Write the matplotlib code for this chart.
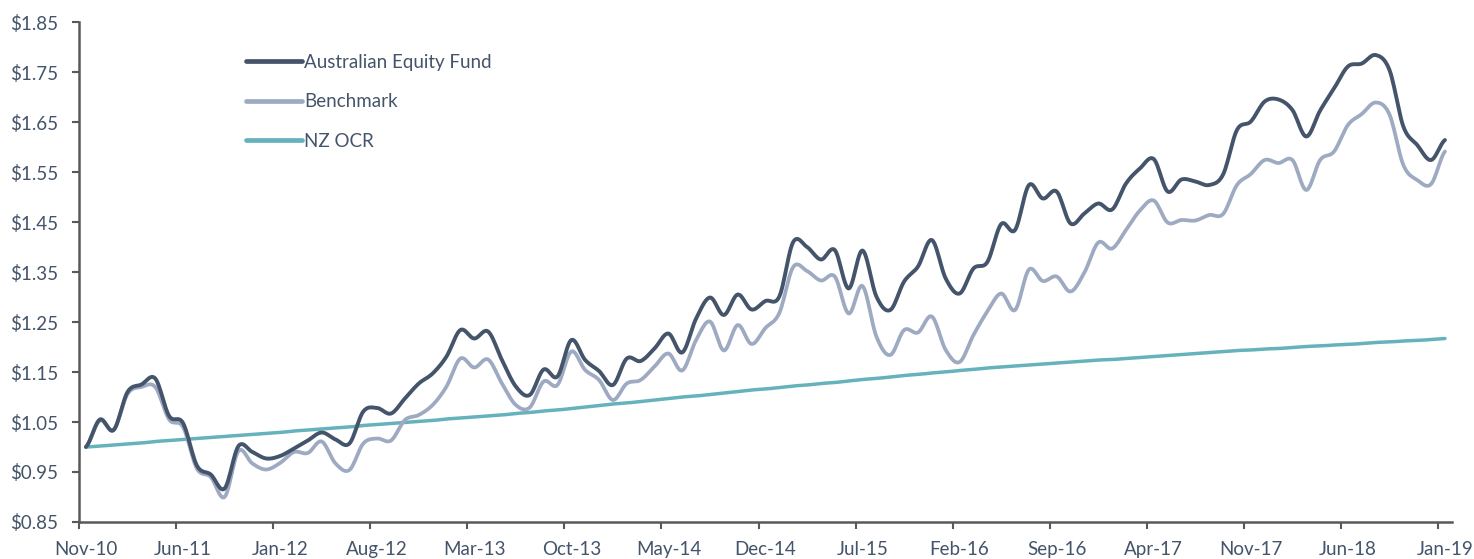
import numpy as np
import matplotlib.pyplot as plt
from matplotlib.ticker import FixedLocator, FuncFormatter

# monthly values, Nov-10 .. Jan-19
fund = [1.000, 1.055, 1.034, 1.110, 1.125, 1.137, 1.062, 1.048, 0.963, 0.945,
        0.917, 1.002, 0.990, 0.977, 0.982, 0.997, 1.013, 1.029, 1.015, 1.007,
        1.071, 1.078, 1.067, 1.097, 1.127, 1.147, 1.181, 1.234, 1.217, 1.231,
        1.174, 1.121, 1.104, 1.155, 1.141, 1.214, 1.174, 1.152, 1.124, 1.177,
        1.172, 1.197, 1.227, 1.189, 1.257, 1.299, 1.264, 1.305, 1.275, 1.292,
        1.301, 1.410, 1.400, 1.375, 1.394, 1.317, 1.393, 1.301, 1.274, 1.331,
        1.361, 1.414, 1.337, 1.307, 1.357, 1.370, 1.446, 1.434, 1.524, 1.497,
        1.511, 1.447, 1.467, 1.487, 1.475, 1.527, 1.557, 1.576, 1.511, 1.535,
        1.531, 1.524, 1.545, 1.634, 1.651, 1.691, 1.695, 1.674, 1.621, 1.673,
        1.717, 1.761, 1.767, 1.784, 1.754, 1.641, 1.604, 1.574, 1.614]

benchmark = [1.000, 1.053, 1.034, 1.106, 1.120, 1.120, 1.055, 1.040, 0.957, 0.940,
             0.900, 0.992, 0.967, 0.955, 0.968, 0.990, 0.988, 1.011, 0.967, 0.954,
             1.007, 1.017, 1.013, 1.054, 1.064, 1.084, 1.121, 1.177, 1.159, 1.175,
             1.127, 1.084, 1.079, 1.131, 1.124, 1.191, 1.154, 1.134, 1.094, 1.127,
             1.134, 1.161, 1.187, 1.153, 1.214, 1.251, 1.193, 1.244, 1.206, 1.238,
             1.268, 1.360, 1.352, 1.333, 1.341, 1.267, 1.322, 1.221, 1.184, 1.234,
             1.229, 1.261, 1.194, 1.170, 1.224, 1.271, 1.307, 1.274, 1.355, 1.332,
             1.341, 1.311, 1.349, 1.409, 1.397, 1.434, 1.473, 1.493, 1.449, 1.454,
             1.453, 1.464, 1.466, 1.524, 1.546, 1.574, 1.568, 1.574, 1.514, 1.574,
             1.591, 1.644, 1.666, 1.689, 1.665, 1.564, 1.534, 1.526, 1.591]

nz_ocr = [1.000, 1.002, 1.004, 1.006, 1.008, 1.011, 1.013, 1.015, 1.017, 1.019,
          1.021, 1.023, 1.025, 1.027, 1.029, 1.032, 1.034, 1.036, 1.038, 1.040,
          1.043, 1.045, 1.047, 1.049, 1.051, 1.053, 1.056, 1.058, 1.060, 1.062,
          1.064, 1.067, 1.069, 1.072, 1.074, 1.077, 1.080, 1.083, 1.086, 1.088,
          1.091, 1.094, 1.097, 1.100, 1.102, 1.105, 1.108, 1.111, 1.114, 1.116,
          1.119, 1.122, 1.124, 1.127, 1.129, 1.132, 1.135, 1.137, 1.140, 1.143,
          1.145, 1.148, 1.150, 1.153, 1.155, 1.158, 1.160, 1.162, 1.164, 1.166,
          1.168, 1.170, 1.172, 1.174, 1.175, 1.177, 1.179, 1.181, 1.183, 1.185,
          1.187, 1.189, 1.191, 1.193, 1.194, 1.196, 1.197, 1.199, 1.201, 1.202,
          1.204, 1.205, 1.207, 1.209, 1.210, 1.212, 1.213, 1.215, 1.217]

tick_labels = ['Nov-10', 'Jun-11', 'Jan-12', 'Aug-12', 'Mar-13', 'Oct-13', 'May-14',
               'Dec-14', 'Jul-15', 'Feb-16', 'Sep-16', 'Apr-17', 'Nov-17', 'Jun-18', 'Jan-19']


def smooth(y, n=12):
    # catmull-rom curve through the monthly points, like excel's smoothed line
    y = np.asarray(y, dtype=float)
    p = np.concatenate([[y[0]], y, [y[-1]]])
    xs, ys = [], []
    t = np.linspace(0, 1, n, endpoint=False)
    for i in range(len(y) - 1):
        p0, p1, p2, p3 = p[i], p[i + 1], p[i + 2], p[i + 3]
        seg = 0.5 * (2 * p1 + (-p0 + p2) * t + (2 * p0 - 5 * p1 + 4 * p2 - p3) * t ** 2
                     + (-p0 + 3 * p1 - 3 * p2 + p3) * t ** 3)
        xs.extend(i + t)
        ys.extend(seg)
    xs.append(len(y) - 1)
    ys.append(y[-1])
    return np.array(xs), np.array(ys)


plt.rcParams['font.family'] = ['Lato', 'DejaVu Sans']
txt_col = '#44546A'
fs = 13.5

fig = plt.figure(figsize=(14.74, 5.59), dpi=100)
ax = fig.add_axes([0.0536, 0.0662, 0.9314, 0.8944])

c_fund = '#44546A'
c_bench = '#9DAAC2'
c_ocr = '#66B2BC'

x, y = smooth(nz_ocr)
ax.plot(x, y, color=c_ocr, lw=2.5, label='NZ OCR', solid_capstyle='round', zorder=2)
x, y = smooth(benchmark)
ax.plot(x, y, color=c_bench, lw=2.7, label='Benchmark', solid_capstyle='round', zorder=3)
x, y = smooth(fund)
ax.plot(x, y, color=c_fund, lw=2.8, label='Australian Equity Fund', solid_capstyle='round', zorder=4)

n = len(fund)
ax.set_xlim(-0.5, n - 0.5)
ax.set_ylim(0.85, 1.85)

ax.set_yticks(np.arange(0.85, 1.851, 0.1))
ax.yaxis.set_major_formatter(FuncFormatter(lambda v, p: '${:.2f}'.format(v)))

label_pos = list(range(0, n, 7))
ax.xaxis.set_major_locator(FixedLocator(label_pos))
ax.set_xticklabels(tick_labels[:len(label_pos)])
ax.xaxis.set_minor_locator(FixedLocator([p - 0.5 for p in label_pos]))
ax.tick_params(axis='x', which='major', length=0, pad=14, labelsize=fs, labelcolor=txt_col)
ax.tick_params(axis='x', which='minor', length=5, width=1.5, color='#595959')
ax.tick_params(axis='y', length=5, width=1.5, color='#595959', labelsize=fs,
               labelcolor=txt_col, pad=10)

for s in ['top', 'right']:
    ax.spines[s].set_visible(False)
for s in ['left', 'bottom']:
    ax.spines[s].set_color('#595959')
    ax.spines[s].set_linewidth(1.8)

h, l = ax.get_legend_handles_labels()
leg = ax.legend(h[::-1], l[::-1], loc='upper left', bbox_to_anchor=(0.115, 0.955),
                frameon=False, fontsize=fs, handlelength=2.95, handletextpad=0.15,
                labelspacing=1.2, borderpad=0)
for t in leg.get_texts():
    t.set_color(txt_col)
for lh in leg.get_lines():
    lh.set_linewidth(3.4)

fig.savefig('out.png', dpi=100)
